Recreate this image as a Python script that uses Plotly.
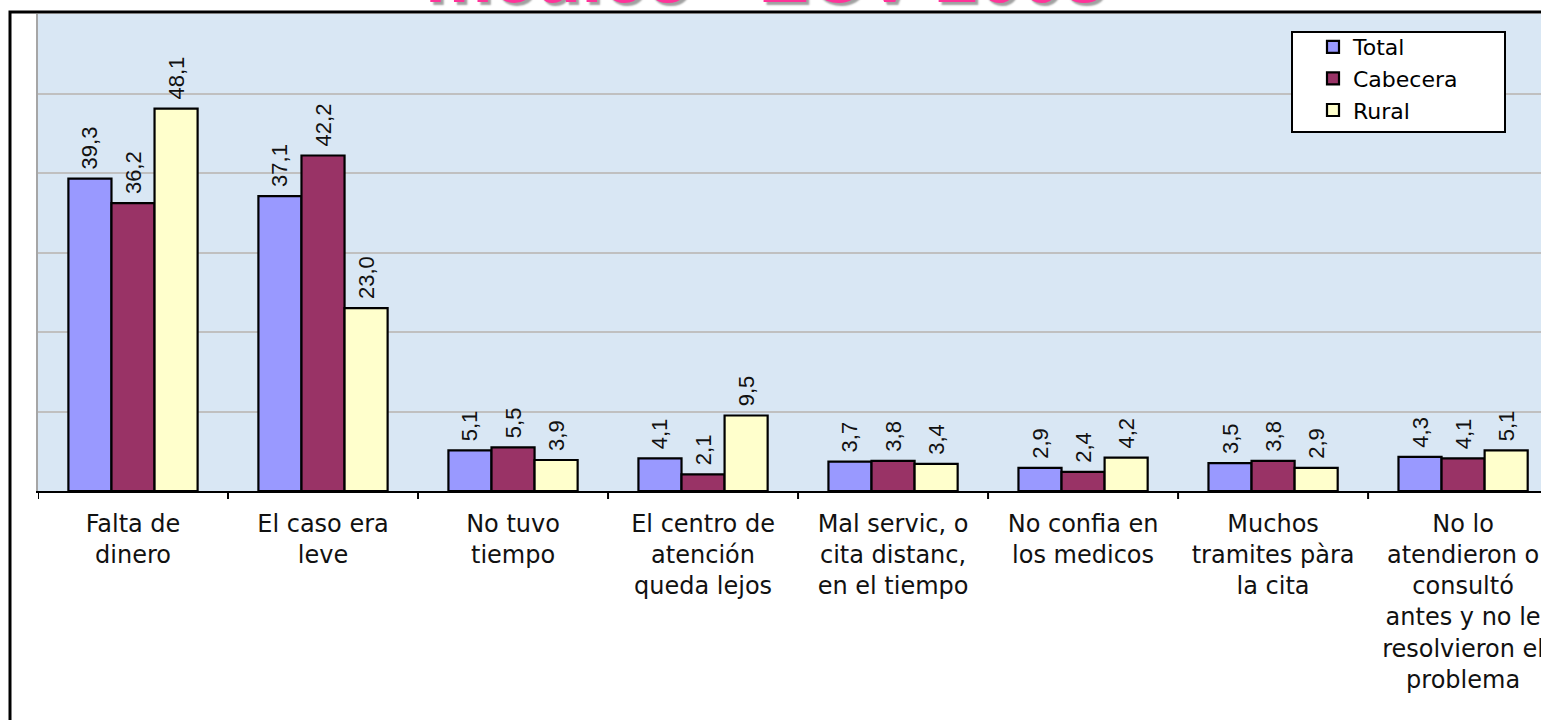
import plotly.graph_objects as go

categories = [
    "Falta de<br>dinero",
    "El caso era<br>leve",
    "No tuvo<br>tiempo",
    "El centro de<br>atención<br>queda lejos",
    "Mal servic, o<br>cita distanc,<br>en el tiempo",
    "No confia en<br>los medicos",
    "Muchos<br>tramites pàra<br>la cita",
    "No lo<br>atendieron o<br>consultó<br>antes y no le<br>resolvieron el<br>problema",
]
total = [39.3, 37.1, 5.1, 4.1, 3.7, 2.9, 3.5, 4.3]
cabecera = [36.2, 42.2, 5.5, 2.1, 3.8, 2.4, 3.8, 4.1]
rural = [48.1, 23.0, 3.9, 9.5, 3.4, 4.2, 2.9, 5.1]
series_names = ["Total", "Cabecera", "Rural"]
series_colors = ["#9999ff", "#993366", "#ffffcc"]
title_text = "médico - ECV 2008"

W, H = 1541, 720
L, T, B = 38, 14, 229
pw, ph = W - L, H - T - B


def px_x(p):
    return (p - L) / pw


def px_y(p):
    return (H - B - p) / ph


fig = go.Figure()
x_idx = list(range(len(categories)))
for name, vals, col in zip(series_names, [total, cabecera, rural], series_colors):
    fig.add_trace(go.Bar(
        x=x_idx, y=vals, name=name,
        marker=dict(color=col, line=dict(color="#000000", width=2.2)),
        texttemplate="\u00a0%{y:.1f}", textposition="outside", textangle=-90,
        textfont=dict(family="Liberation Sans, Arial", size=22, color="#111111"),
        constraintext="none", cliponaxis=False,
    ))

fig.update_layout(
    width=W, height=H,
    margin=dict(l=L, r=0, t=T, b=B, autoexpand=False),
    paper_bgcolor="#ffffff",
    plot_bgcolor="#d9e7f4",
    separators=",.",
    barmode="group", bargap=0.32, bargroupgap=0,
    showlegend=True,
    legend=dict(
        x=px_x(1313), y=px_y(26), xanchor="left", yanchor="top",
        bgcolor="rgba(0,0,0,0)", borderwidth=0,
        font=dict(family="DejaVu Sans, Arial", size=22, color="#000000"),
        tracegroupgap=0,
    ),
    xaxis=dict(
        type="linear", range=[-0.5, 7.41],
        tickmode="array", tickvals=x_idx, ticktext=categories,
        showgrid=False, zeroline=False,
        showline=True, linecolor="#000000", linewidth=2,
        ticks="",
        tickfont=dict(family="DejaVu Sans, Arial", size=24, color="#111111"),
        ticklabelstandoff=10,
        ticklabeloverflow="allow",
    ),
    yaxis=dict(
        range=[0, 60], dtick=10, showticklabels=False,
        showgrid=True, gridcolor="#c0c0c0", gridwidth=2,
        zeroline=False, showline=True, linecolor="#a6a6a6", linewidth=2,
        ticks="",
    ),
)

# category boundary ticks on x axis
boundaries = [i - 0.5 for i in range(len(categories) + 1)]
for b in boundaries:
    fig.add_shape(type="line", xref="x", yref="paper", x0=b, x1=b, y0=0, y1=-8 / ph,
                  line=dict(color="#000000", width=2))

# legend box
fig.add_shape(type="rect", xref="paper", yref="paper",
              x0=px_x(1292), x1=px_x(1505), y0=px_y(132), y1=px_y(32),
              fillcolor="#ffffff", line=dict(color="#000000", width=2), layer="above")

# outer frame
fig.add_shape(type="rect", xref="paper", yref="paper",
              x0=px_x(10), x1=px_x(1700), y0=px_y(900), y1=px_y(12),
              fillcolor="rgba(0,0,0,0)", line=dict(color="#000000", width=3), layer="above")

# title (mostly above the visible area)
fig.add_annotation(
    text=title_text, xref="paper", yref="paper", x=px_x(765), y=px_y(20),
    xanchor="center", yanchor="bottom", showarrow=False,
    font=dict(family="Liberation Sans, Arial", size=76, color="#ff3399",
              weight="bold", shadow="3px 3px 2px #a0a0a0"),
)

fig.write_html(
    "out.html",
    config={"displayModeBar": False},
    post_script="document.body.style.margin='0';document.body.style.overflow='hidden';",
)
